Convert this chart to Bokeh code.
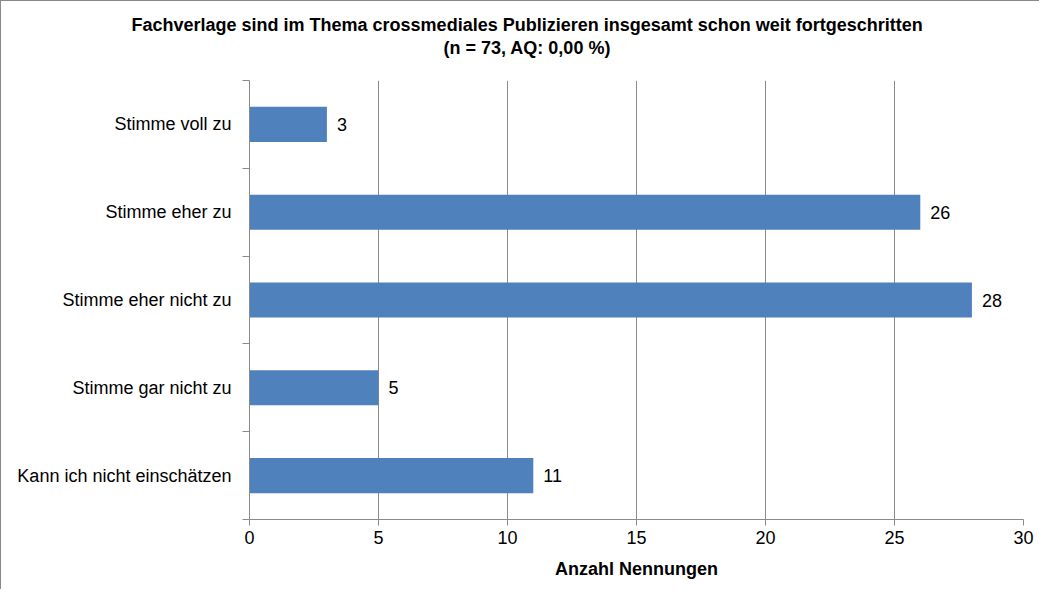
from bokeh.plotting import figure
from bokeh.models import Range1d, FixedTicker, Title, ColumnDataSource
from bokeh.embed import file_html
from bokeh.resources import INLINE
from bokeh.core.properties import value

categories = ["Stimme voll zu", "Stimme eher zu", "Stimme eher nicht zu",
              "Stimme gar nicht zu", "Kann ich nicht einschätzen"]
counts = [3, 26, 28, 5, 11]
x_ticks = [0, 5, 10, 15, 20, 25, 30]
title_lines = ["Fachverlage sind im   Thema crossmediales Publizieren insgesamt schon weit  fortgeschritten",
               "(n = 73, AQ: 0,00 %)"]
x_label = "Anzahl Nennungen"

FONT = "Liberation Sans"
GRAY = "#8a8a8a"

pos = [i + 0.5 for i in range(len(categories))]
src = ColumnDataSource(dict(y=pos, right=counts, label=[str(c) for c in counts]))

p = figure(width=1039, height=589,
           x_range=Range1d(x_ticks[0], x_ticks[-1]),
           y_range=Range1d(len(categories), 0),
           output_backend="svg", toolbar_location=None,
           min_border_left=248, min_border_top=79,
           min_border_right=17, min_border_bottom=71)
p.styles = {"border-left": "1px solid #898989", "border-top": "1px solid #898989"}
p.outline_line_color = None
p.background_fill_color = "white"
p.border_fill_color = "white"

p.hbar(y="y", right="right", left=0, height=0.4, source=src,
       fill_color="#4F81BD", line_color=None)
p.text(x="right", y="y", text="label", source=src, x_offset=10,
       text_baseline="middle", text_align="left",
       text_font=value(FONT), text_font_size="18px", text_color="black")

# x axis
xa = p.xaxis[0]
xa.ticker = FixedTicker(ticks=x_ticks)
xa.axis_line_color = GRAY
xa.major_tick_line_color = GRAY
xa.major_tick_out = 6
xa.major_tick_in = 0
xa.minor_tick_line_color = None
xa.major_label_text_font = FONT
xa.major_label_text_font_size = "18px"
xa.major_label_text_color = "black"
xa.major_label_standoff = 5
xa.axis_label = x_label
xa.axis_label_text_font = FONT
xa.axis_label_text_font_size = "18px"
xa.axis_label_text_font_style = "bold"
xa.axis_label_text_color = "black"
xa.axis_label_standoff = 12

# y axis
ya = p.yaxis[0]
ya.ticker = FixedTicker(ticks=pos, minor_ticks=list(range(len(categories) + 1)))
ya.major_label_overrides = {pp: c for pp, c in zip(pos, categories)}
ya.axis_line_color = GRAY
ya.major_tick_line_color = None
ya.major_tick_out = 0
ya.major_tick_in = 0
ya.minor_tick_line_color = GRAY
ya.minor_tick_out = 7
ya.minor_tick_in = 0
ya.major_label_text_font = FONT
ya.major_label_text_font_size = "18px"
ya.major_label_text_color = "black"
ya.major_label_standoff = 11

p.ygrid.visible = False
p.xgrid.grid_line_color = GRAY
p.xgrid.grid_line_width = 1

# spacer between plot area and title block, then the two title lines
p.add_layout(Title(text=" ", text_font_size="12px", standoff=6,
                   text_color="white"), "above")
p.add_layout(Title(text=title_lines[1], align="left", offset=194, standoff=2,
                   text_font=FONT, text_font_size="18px", text_font_style="bold",
                   text_color="black"), "above")
p.add_layout(Title(text=title_lines[0], align="left", offset=-118, standoff=0,
                   text_font=FONT, text_font_size="18px", text_font_style="bold",
                   text_color="black"), "above")

open("out.html", "w").write(file_html(p, INLINE))
